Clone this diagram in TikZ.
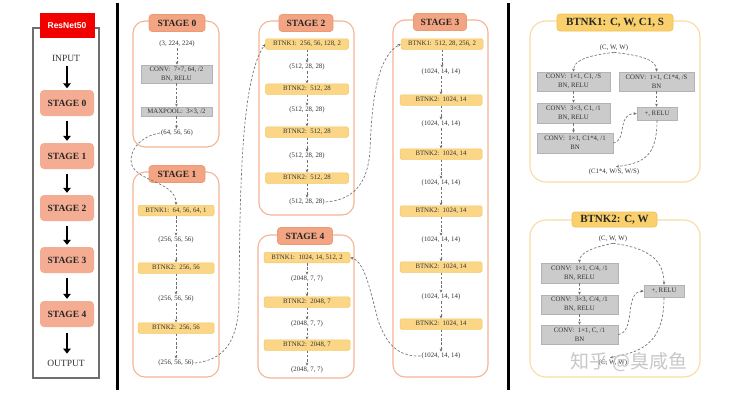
\documentclass[tikz,border=0pt]{standalone}
\usepackage{fontspec}
\setmainfont{Liberation Serif}
\setsansfont{Liberation Sans}
\newfontfamily\wmfont{Noto Sans CJK SC}
\usetikzlibrary{arrows.meta,calc}
\definecolor{txt}{HTML}{333333}
\definecolor{lsfill}{HTML}{F4AD92}
\definecolor{stfill}{HTML}{F3A482}
\definecolor{stbd}{HTML}{EC9A76}
\definecolor{cbd}{HTML}{F2B596}
\definecolor{yfill}{HTML}{FCD687}
\definecolor{ybd}{HTML}{F6C866}
\definecolor{gfill}{HTML}{CBCBCB}
\definecolor{gbd}{HTML}{B3B3B3}
\definecolor{pbd}{HTML}{F8DCA4}
\definecolor{ptfill}{HTML}{FAD06C}
\definecolor{ptbd}{HTML}{F0C058}
\definecolor{rn}{HTML}{F20000}
\definecolor{dline}{HTML}{707070}
\definecolor{lbd}{HTML}{6E6E6E}
\begin{document}
\begin{tikzpicture}[x=1pt,y=-1pt,
 sm/.style={font=\fontsize{6.8}{9}\selectfont,text=txt},
 lbl/.style={sm,inner sep=1pt},
 gbox/.style={sm,draw=gbd,fill=gfill,line width=0.5pt,align=center,inner sep=0pt},
 ybox/.style={sm,draw=ybd,fill=yfill,line width=0.5pt,rounded corners=1.5pt,inner sep=0pt,minimum height=10.5pt},
 stitle/.style={draw=stbd,fill=stfill,line width=0.6pt,rounded corners=3pt,inner sep=0pt,minimum height=17pt,font=\bfseries\fontsize{9.5}{10}\selectfont,text=black!85},
 lstage/.style={fill=lsfill,rounded corners=4pt,inner sep=0pt,minimum width=54pt,minimum height=26pt,font=\bfseries\fontsize{9.5}{10}\selectfont,text=black!85},
 cont/.style={draw=cbd,line width=1.1pt,rounded corners=12pt},
 pcont/.style={draw=pbd,line width=1.1pt,rounded corners=16pt},
 ptitle/.style={draw=ptbd,fill=ptfill,line width=0.6pt,rounded corners=3pt,inner sep=0pt,font=\bfseries\fontsize{11}{12}\selectfont,text=black!85},
 darr/.style={draw=dline,dash pattern=on 2.5pt off 1.8pt,line width=0.65pt,-{Stealth[length=3.2pt,width=2.8pt]}},
 barr/.style={line width=2.6pt,-{Triangle[length=5pt,width=7.5pt]}},
 io/.style={font=\fontsize{9.5}{10}\selectfont,text=txt,inner sep=1pt}
]
\fill[white] (0,0) rectangle (741,408);
\useasboundingbox (0,0) rectangle (741,408);

% ---------- left overview ----------
\draw[lbd,line width=1.1pt] (33,28) rectangle (99,378);
\node[fill=rn,text=white,font=\sffamily\bfseries\fontsize{8.5}{9}\selectfont,minimum width=55pt,minimum height=25pt,inner sep=0pt] (rn) at (67,25.5) {ResNet50};
\node[io] (inp) at (66,58) {INPUT};
\node[lstage] (s0) at (67,103) {STAGE 0};
\node[lstage] (s1) at (67,156) {STAGE 1};
\node[lstage] (s2) at (67,208) {STAGE 2};
\node[lstage] (s3) at (67,260) {STAGE 3};
\node[lstage] (s4) at (67,314) {STAGE 4};
\node[io] (outp) at (66,363) {OUTPUT};
\draw[barr] ($(inp.south)+(1,4)$) -- ($(s0.north)+(0,-1.5)$);
\foreach \a/\b in {s0/s1,s1/s2,s2/s3,s3/s4}
  \draw[barr] ($(\a.south)+(0,5)$) -- ($(\b.north)+(0,-2)$);
\draw[barr] ($(s4.south)+(0,6)$) -- ($(outp.north)+(1,-5)$);

% separators
\draw[line width=3pt] (117,3) -- (117,390);
\draw[line width=3pt] (508,3) -- (508,390);

% ---------- stage containers ----------
\draw[cont] (133,21) rectangle (219,147);
\node[stitle,minimum width=56pt] (st0) at (177,23) {STAGE 0};
\draw[cont] (133,172) rectangle (219,377);
\node[stitle,minimum width=56pt] (st1) at (177,174) {STAGE 1};
\draw[cont] (259,21) rectangle (354,215);
\node[stitle,minimum width=54pt] (st2) at (306,23) {STAGE 2};
\draw[cont] (393,20) rectangle (488,377);
\node[stitle,minimum width=53pt] (st3) at (440,22) {STAGE 3};
\draw[cont] (258,235) rectangle (354,378);
\node[stitle,minimum width=55pt] (st4) at (305,236) {STAGE 4};

% stage 0
\node[lbl] (in0) at (177,44) {(3, 224, 224)};
\node[gbox,minimum width=71pt,minimum height=18pt] (c0) at (176.5,74) {CONV:\ \ 7×7, 64, /2\\BN, RELU};
\node[gbox,minimum width=71pt,minimum height=9pt] (m0) at (176.5,111.5) {MAXPOOL:\ \ 3×3, /2};
\node[lbl] (out0) at (177,133) {(64, 56, 56)};
\foreach \a/\b in {in0/c0,c0/m0,m0/out0}
  \draw[darr] (\a.south) -- (\a.south |- \b.north);

% stage 1
\begin{scope}[every node/.append style={}]
\node[ybox,minimum width=76pt] (b1a) at (176,210.5) {BTNK1:\ \ 64, 56, 64, 1};
\node[lbl] (t1a) at (176,240) {(256, 56, 56)};
\node[ybox,minimum width=76pt] (b1b) at (176,268) {BTNK2:\ \ 256, 56};
\node[lbl] (t1b) at (176,299) {(256, 56, 56)};
\node[ybox,minimum width=76pt] (b1c) at (176,328) {BTNK2:\ \ 256, 56};
\node[lbl] (t1c) at (176,363) {(256, 56, 56)};
\end{scope}
\foreach \a/\b in {b1a/t1a,t1a/b1b,b1b/t1b,t1b/b1c,b1c/t1c}
  \draw[darr] (\a.south) -- (\a.south |- \b.north);

% stage 2
\node[ybox,minimum width=83pt] (b2a) at (307,44) {BTNK1:\ \ 256, 56, 128, 2};
\node[lbl] (t2a) at (307,67) {(512, 28, 28)};
\node[ybox,minimum width=83pt] (b2b) at (307,89) {BTNK2:\ \ 512, 28};
\node[lbl] (t2b) at (307,110) {(512, 28, 28)};
\node[ybox,minimum width=83pt] (b2c) at (307,132) {BTNK2:\ \ 512, 28};
\node[lbl] (t2c) at (307,156) {(512, 28, 28)};
\node[ybox,minimum width=83pt] (b2d) at (307,178) {BTNK2:\ \ 512, 28};
\node[lbl] (t2d) at (307,202) {(512, 28, 28)};
\foreach \a/\b in {b2a/t2a,t2a/b2b,b2b/t2b,t2b/b2c,b2c/t2c,b2c/t2c,b2d/t2d}
  \draw[darr] (\a.south) -- (\a.south |- \b.north);
\draw[darr] (t2c.south) -- (t2c.south |- b2d.north);

% stage 3
\node[ybox,minimum width=82pt] (b3a) at (442,44) {BTNK1:\ \ 512, 28, 256, 2};
\node[lbl] (t3a) at (441,72) {(1024, 14, 14)};
\node[ybox,minimum width=82pt] (b3b) at (441,100) {BTNK2:\ \ 1024, 14};
\node[lbl] (t3b) at (441,124) {(1024, 14, 14)};
\node[ybox,minimum width=82pt] (b3c) at (441,154) {BTNK2:\ \ 1024, 14};
\node[lbl] (t3c) at (441,183) {(1024, 14, 14)};
\node[ybox,minimum width=82pt] (b3d) at (441,211) {BTNK2:\ \ 1024, 14};
\node[lbl] (t3d) at (441,240) {(1024, 14, 14)};
\node[ybox,minimum width=82pt] (b3e) at (441,267) {BTNK2:\ \ 1024, 14};
\node[lbl] (t3e) at (441,297) {(1024, 14, 14)};
\node[ybox,minimum width=82pt] (b3f) at (441,324) {BTNK2:\ \ 1024, 14};
\node[lbl] (t3f) at (441,356) {(1024, 14, 14)};
\foreach \a/\b in {b3a/t3a,t3a/b3b,b3b/t3b,t3b/b3c,b3c/t3c,t3c/b3d,b3d/t3d,t3d/b3e,b3e/t3e,t3e/b3f,b3f/t3f}
  \draw[darr] (\a.south) -- (\a.south |- \b.north);

% stage 4
\node[ybox,minimum width=86pt] (b4a) at (307,257.5) {BTNK1:\ \ 1024, 14, 512, 2};
\node[lbl] (t4a) at (307,279) {(2048, 7, 7)};
\node[ybox,minimum width=86pt] (b4b) at (307,302) {BTNK2:\ \ 2048, 7};
\node[lbl] (t4b) at (307,324) {(2048, 7, 7)};
\node[ybox,minimum width=86pt] (b4c) at (307,345) {BTNK2:\ \ 2048, 7};
\node[lbl] (t4c) at (307,370) {(2048, 7, 7)};
\foreach \a/\b in {b4a/t4a,t4a/b4b,b4b/t4b,t4b/b4c,b4c/t4c}
  \draw[darr] (\a.south) -- (\a.south |- \b.north);

% inter-stage connectors
\draw[darr] (out0.west) .. controls (142,136) and (131,148) .. (131,160)
  .. controls (131,182) and (176,180) .. (b1a.north);
\draw[darr] (t1c.east) .. controls (222,360) and (238,345) .. (239,300)
  .. controls (240,200) and (240,80) .. (b2a.west);
\draw[darr] (t2d.east) .. controls (352,200) and (368,185) .. (370,150)
  .. controls (372,90) and (380,55) .. (b3a.west);
\draw[darr] (t3f.west) .. controls (395,357) and (385,340) .. (378,320)
  .. controls (370,290) and (365,262) .. (b4a.east);

% ---------- BTNK1 panel ----------
\draw[pcont] (530,21) rectangle (700,182);
\node[ptitle,minimum width=116pt,minimum height=17pt] (pt1) at (615,22.5) {BTNK1: C, W, C1, S};
\node[lbl] (inA) at (614,48) {(C, W, W)};
\node[gbox,minimum width=73pt,minimum height=19pt] (k1) at (573.5,81.5) {CONV:\ \ 1×1, C1, /S\\BN, RELU};
\node[gbox,minimum width=75pt,minimum height=19pt] (k4) at (656.5,81.5) {CONV:\ \ 1×1, C1*4, /S\\BN};
\node[gbox,minimum width=73pt,minimum height=20pt] (k2) at (573.5,113) {CONV:\ \ 3×3, C1, /1\\BN, RELU};
\node[gbox,minimum width=76pt,minimum height=20pt] (k3) at (575,143) {CONV:\ \ 1×1, C1*4, /1\\BN};
\node[gbox,minimum width=40pt,minimum height=13pt] (a1) at (657,113.5) {+, RELU};
\node[lbl] (outA) at (614,172) {(C1*4, W/S, W/S)};
\draw[darr] (inA.south) .. controls (595,55) and (573.5,58) .. (k1.north);
\draw[darr] (inA.south) .. controls (635,55) and (656.5,58) .. (k4.north);
\draw[darr] (k1.south) -- (k1.south |- k2.north);
\draw[darr] (k2.south) -- (k2.south |- k3.north);
\draw[darr] (k4.south) -- (k4.south |- a1.north);
\draw[darr] (k3.east) .. controls (628,140) and (616,114) .. (a1.west);
\draw[darr] (a1.south) .. controls (657,158) and (642,163) .. ($(outA.north)+(2,-1)$);

% ---------- BTNK2 panel ----------
\draw[pcont] (530,220) rectangle (700,377);
\node[ptitle,minimum width=85pt,minimum height=15pt] (pt2) at (614.5,219.5) {BTNK2: C, W};
\node[lbl] (inB) at (613,239) {(C, W, W)};
\node[gbox,minimum width=77pt,minimum height=20pt] (m1) at (579.5,273) {CONV:\ \ 1×1, C/4, /1\\BN, RELU};
\node[gbox,minimum width=77pt,minimum height=19pt] (m2) at (579.5,304.5) {CONV:\ \ 3×3, C/4, /1\\BN, RELU};
\node[gbox,minimum width=77pt,minimum height=19pt] (m3) at (579.5,334.5) {CONV:\ \ 1×1, C, /1\\BN};
\node[gbox,minimum width=40pt,minimum height=12pt] (a2) at (664,291) {+, RELU};
\node[lbl] (outB) at (613,363) {(C, W, W)};
\draw[darr] (inB.south) .. controls (595,247) and (579.5,252) .. (m1.north);
\draw[darr] (inB.south) .. controls (640,247) and (664,255) .. (a2.north);
\draw[darr] (m1.south) -- (m1.south |- m2.north);
\draw[darr] (m2.south) -- (m2.south |- m3.north);
\draw[darr] (m3.east) .. controls (636,332) and (624,292) .. (a2.west);
\draw[darr] (a2.south) .. controls (664,345) and (640,352) .. ($(outB.north)+(-3,-1)$);
\node[font={\wmfont\fontsize{19}{20}\selectfont},text=gray!50,opacity=0.85,inner sep=0pt] (wm) at (629,362) {知乎 @臭咸鱼};
\end{tikzpicture}
\end{document}
